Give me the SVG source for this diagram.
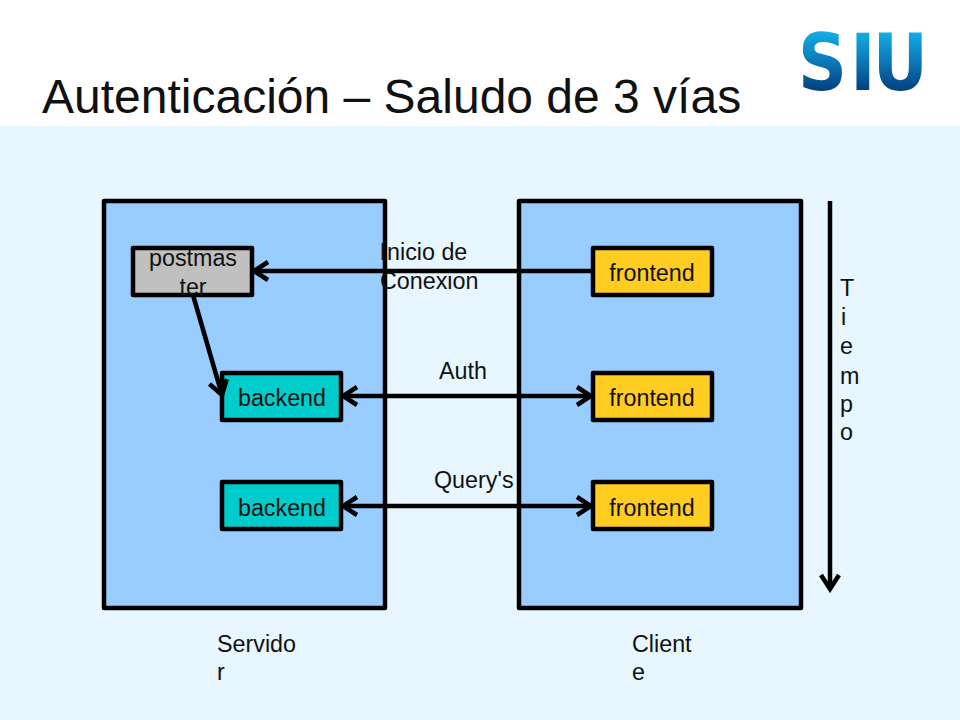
<svg xmlns="http://www.w3.org/2000/svg" width="960" height="720" viewBox="0 0 960 720">
<style>
text{font-family:"Liberation Sans",Arial,sans-serif;font-size:23.3px;fill:#111}
.m{text-anchor:middle}
.box{stroke:#000;stroke-width:4.5;stroke-linejoin:round}
.con{fill:none;stroke:#000;stroke-width:4.5}
.panel{fill:#99ccff}
.fe{fill:#ffcc22}
.be{fill:#00cccc}
.pm{fill:#c0c0c0}
</style>
<defs>
<linearGradient id="logo" gradientUnits="userSpaceOnUse" x1="0" y1="32" x2="0" y2="91">
<stop offset="0" stop-color="#12aee6"/><stop offset="0.5" stop-color="#0b78b8"/><stop offset="1" stop-color="#023f7c"/>
</linearGradient>
<marker id="a" markerUnits="userSpaceOnUse" markerWidth="22" markerHeight="26" refX="18" refY="13" orient="auto-start-reverse" viewBox="0 0 22 26">
<path d="M4 4 L18 13 L4 22" fill="none" stroke="#000" stroke-width="4.5"/>
</marker>
</defs>
<rect width="960" height="720" fill="#ffffff"/>
<rect y="126" width="960" height="594" fill="#e7f6ff"/>
<text id="title" x="42" y="113" style="font-size:48px">Autenticación – Saludo de 3 vías</text>
<g id="logo-siu"><text transform="translate(798 0) scale(.87 1)" x="0 60 86" y="90" style="font-family:'DejaVu Sans',sans-serif;font-size:78px;font-weight:bold;fill:url(#logo)">SIU</text></g>
<g id="servidor"><rect class="box panel" x="104" y="201" width="281" height="407"/>
<text x="217" y="652">Servido</text><text x="217" y="680">r</text></g>
<g id="cliente"><rect class="box panel" x="519" y="201" width="282" height="407"/>
<text x="632" y="652">Client</text><text x="632" y="680">e</text></g>
<g id="postmaster"><rect class="box pm" x="133" y="248" width="119" height="47"/>
<text class="m" x="193" y="266">postmas</text><text class="m" x="193" y="295">ter</text></g>
<g id="backend1"><rect class="box be" x="222" y="373" width="119" height="47"/><text class="m" x="282" y="406">backend</text></g>
<g id="backend2"><rect class="box be" x="222" y="482" width="119" height="47"/><text class="m" x="282" y="516">backend</text></g>
<g id="frontend1"><rect class="box fe" x="593" y="248" width="119" height="47"/><text class="m" x="652" y="281">frontend</text></g>
<g id="frontend2"><rect class="box fe" x="593" y="373" width="119" height="47"/><text class="m" x="652" y="406">frontend</text></g>
<g id="frontend3"><rect class="box fe" x="593" y="482" width="119" height="47"/><text class="m" x="652" y="516">frontend</text></g>
<g id="connectors">
<line class="con" x1="593" y1="271" x2="254" y2="271" marker-end="url(#a)"/>
<line class="con" x1="193" y1="295" x2="222" y2="395" marker-end="url(#a)"/>
<line class="con" x1="343" y1="396" x2="591" y2="396" marker-start="url(#a)" marker-end="url(#a)"/>
<line class="con" x1="343" y1="506" x2="591" y2="506" marker-start="url(#a)" marker-end="url(#a)"/>
<line class="con" x1="830" y1="201" x2="830" y2="589" marker-end="url(#a)"/>
</g>
<g id="labels">
<text y="260"><tspan x="379.5">I</tspan><tspan x="387">nicio de</tspan></text><text x="380" y="289">Conexion</text>
<text x="439" y="379">Auth</text>
<text x="434" y="488">Query's</text>
<g id="tiempo"><text x="840" y="296">T</text><text x="841" y="325">i</text><text x="840" y="354">e</text><text x="840" y="384">m</text><text x="840" y="412">p</text><text x="840" y="440">o</text></g>
</g>
</svg>
